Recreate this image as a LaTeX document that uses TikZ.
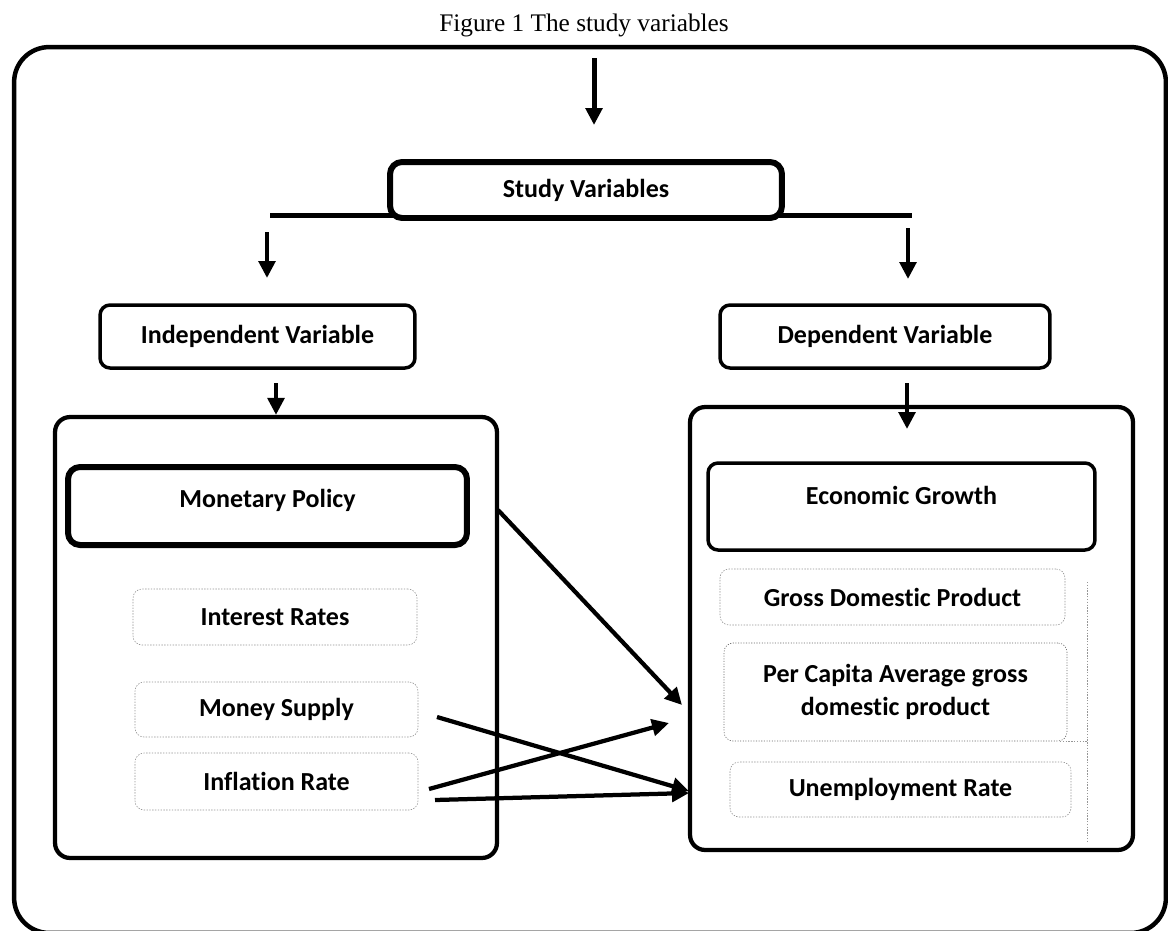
\documentclass[tikz,border=0pt]{standalone}
\usepackage{fontspec}
\setmainfont{Liberation Serif}
\newfontfamily\boxfont{Carlito}[Ligatures=NoCommon]
\usetikzlibrary{arrows.meta,positioning}
\definecolor{dotgray}{RGB}{150,150,150}
\tikzset{
  varbox/.style={rectangle, rounded corners=2.4mm, draw=black, line width=1.2mm, fill=white,
                 align=center, inner sep=0pt, font=\boxfont\bfseries\fontsize{14.8}{18.7}\selectfont},
  headbox/.style={varbox, line width=0.7mm, rounded corners=2mm},
  groupbox/.style={varbox, line width=0.85mm, rounded corners=3mm},
  itembox/.style={varbox, draw=dotgray, line width=0.35pt, dash pattern=on 0.8pt off 0.8pt, rounded corners=1.8mm},
  framebox/.style={rectangle, rounded corners=7mm, draw=black, line width=0.9mm, inner sep=0pt},
  arrow/.style={-{Triangle[length=3.4mm,width=3.3mm]}, line width=0.85mm},
  guide/.style={draw=dotgray, line width=0.5pt, dash pattern=on 0.8pt off 0.8pt},
}

\begin{document}
\begin{tikzpicture}[x=0.02cm, y=-0.02cm]
\useasboundingbox (0,0) rectangle (1168,930);

\node[font=\fontsize{14.4}{16}\selectfont] (title) at (584,25) {Figure 1 The study variables};
\node[framebox, minimum width=23.04cm, minimum height=17.72cm] (frame) at (590,490) {};

% top level
\coordinate (topin) at (594,58);
\coordinate (topout) at (594,125);
\draw[arrow, line width=1mm] (topin) -- (topout);
\coordinate (brL) at (270,215);
\coordinate (brR) at (912,215);
\draw[line width=1mm] (brL) -- (brR);
\node[varbox, minimum width=7.84cm, minimum height=1.12cm] (study) at (586,190) {Study Variables};

% the two branches
\node[headbox, minimum width=6.3cm, minimum height=1.26cm] (indep) at (257.5,336.5) {Independent Variable};
\node[headbox, minimum width=6.6cm, minimum height=1.26cm] (dep) at (885,336.5) {Dependent Variable};
\coordinate (brLa) at (267,232);
\coordinate (brLb) at (267,278);
\coordinate (brRa) at (908,228);
\coordinate (brRb) at (908,279);
\draw[arrow] (brLa) -- (brLb);
\draw[arrow] (brRa) -- (brRb);

% independent side
\node[groupbox, minimum width=8.84cm, minimum height=8.82cm] (lbox) at (276,637.5) {};
\node[varbox, minimum width=7.98cm, minimum height=1.56cm, text height=0.36cm, text depth=0.32cm] (monetary) at (267.5,506) {Monetary Policy};
\node[itembox, minimum width=5.68cm, minimum height=1.12cm] (interest) at (275,617) {Interest Rates};
\node[itembox, minimum width=5.66cm, minimum height=1.1cm] (money) at (276.5,709.5) {Money Supply};
\node[itembox, minimum width=5.66cm, minimum height=1.14cm] (inflation) at (276.5,781.5) {Inflation Rate};
\coordinate (indepout) at (276,383);
\draw[arrow] (indepout) -- (lbox.north);

% dependent side
\node[groupbox, minimum width=8.86cm, minimum height=8.86cm] (rbox) at (911.5,628.5) {};
\node[headbox, minimum width=7.74cm, minimum height=1.74cm, text height=0.36cm, text depth=0.46cm] (growth) at (901.5,506.5) {Economic Growth};
\node[itembox, minimum width=6.9cm, minimum height=1.12cm] (gdp) at (892.5,597) {Gross Domestic Product};
\node[itembox, minimum width=6.86cm, minimum height=1.96cm, dash pattern=on 0.6pt off 0.9pt, draw=black!60] (percapita) at (895.5,692) {Per Capita Average gross\\domestic product};
\node[itembox, minimum width=6.82cm, minimum height=1.1cm] (unemp) at (900.5,789.5) {Unemployment Rate};
\coordinate (depin) at (907,383);
\coordinate (depout) at (907,429);
\draw[arrow] (depin) -- (depout);
\draw[guide] (1087,582) -- (1087,843);
\draw[guide] (1060,741) -- (1087,741);

% links between the variables
\coordinate (mpout) at (498,510);
\coordinate (msout) at (437,717);
\coordinate (irout) at (429,789);
\coordinate (irout2) at (435,800);
\coordinate (pcin) at (682,705);
\coordinate (pcin2) at (669,723);
\coordinate (urin) at (689,791);
\coordinate (urin2) at (689,793);
\draw[arrow] (mpout) -- (pcin);
\draw[arrow] (msout) -- (urin);
\draw[arrow] (irout) -- (pcin2);
\draw[arrow] (irout2) -- (urin2);
\end{tikzpicture}
\end{document}
